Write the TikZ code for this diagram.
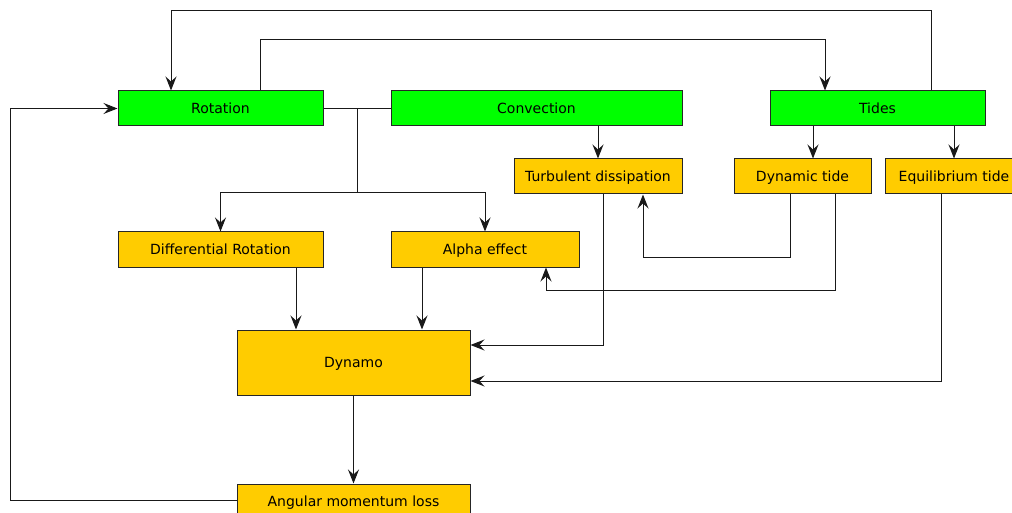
\documentclass[tikz,border=0pt]{standalone}
\usepackage{fontspec}
\setmainfont{DejaVu Sans}
\usetikzlibrary{arrows.meta}
\definecolor{boxgreen}{HTML}{00FF00}
\definecolor{boxorange}{HTML}{FFCC00}
\begin{document}
\begin{tikzpicture}[x=1pt,y=-1pt,
  box/.style={draw=black!85,line width=1pt,inner sep=0pt,text depth=0pt,font=\fontsize{14}{16}\selectfont},
  gbox/.style={box,fill=boxgreen},
  obox/.style={box,fill=boxorange},
  arr/.style={-{Stealth[length=14pt,width=11pt,inset=5pt]},line width=1pt,black!90},
  ln/.style={line width=1pt,black!90}]
\useasboundingbox (0,0) rectangle (1012,513);
\node[gbox,minimum width=205pt,minimum height=35pt] (rot) at (220.5,108.5) {Rotation};
\node[gbox,minimum width=291pt,minimum height=35pt] (conv) at (536.5,108.5) {Convection};
\node[gbox,minimum width=215pt,minimum height=35pt] (tides) at (877.5,108.5) {Tides};
\node[obox,minimum width=168pt,minimum height=35pt] (turb) at (598,176.5) {Turbulent dissipation};
\node[obox,minimum width=137pt,minimum height=35pt] (dyn) at (802.5,176.5) {Dynamic tide};
\node[obox,minimum width=138pt,minimum height=35pt] (eq) at (954,176.5) {Equilibrium tide};
\node[obox,minimum width=205pt,minimum height=35pt] (diff) at (220.5,249.5) {Differential Rotation};
\node[obox,minimum width=188pt,minimum height=35pt] (alpha) at (485,249.5) {Alpha effect};
\node[obox,minimum width=233pt,minimum height=65pt] (dynamo) at (353.5,362.5) {Dynamo};
\node[obox,minimum width=233pt,minimum height=35pt] (aml) at (353.5,501.5) {Angular momentum loss};

\coordinate (split) at (357,108.5);
\coordinate (branch) at (357,193);
\draw[arr] (tides.north -| 931,0) |- (171,11) -- (rot.north -| 171,0);
\draw[arr] (rot.north -| 260,0) |- (825,40) -- (tides.north -| 825,0);
\draw[ln] (rot.east) -- (conv.west);
\draw[ln] (split) -- (branch);
\draw[arr] (branch) -| (diff.north);
\draw[arr] (branch) -| (alpha.north);
\draw[arr] (conv.south -| turb.north) -- (turb.north);
\draw[arr] (tides.south -| 813,0) -- (dyn.north -| 813,0);
\draw[arr] (tides.south -| eq.north) -- (eq.north);
\draw[arr] (dyn.south -| 790,0) |- (643,257) -- (turb.south -| 643,0);
\draw[arr] (dyn.south -| 835,0) |- (546,290) -- (alpha.south -| 546,0);
\draw[arr] (turb.south -| 603,0) |- (dynamo.east |- 0,345);
\draw[arr] (eq.south -| 941,0) |- (dynamo.east |- 0,381);
\draw[arr] (diff.south -| 296,0) -- (dynamo.north -| 296,0);
\draw[arr] (alpha.south -| 422,0) -- (dynamo.north -| 422,0);
\draw[arr] (dynamo.south) -- (aml.north);
\draw[arr] (aml.west |- 0,500) -| (10,108.5) -- (rot.west);
\end{tikzpicture}
\end{document}
